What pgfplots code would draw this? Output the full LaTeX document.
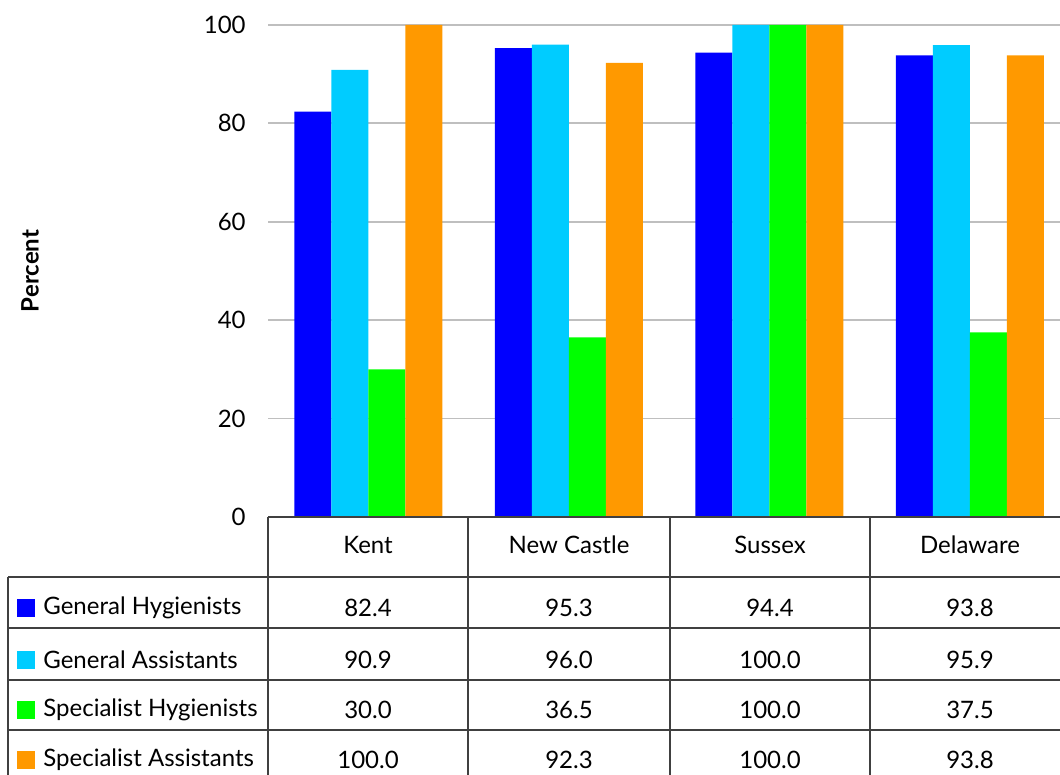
\documentclass[border=0pt]{standalone}
\usepackage{pgfplots}
\pgfplotsset{compat=1.18}
\usepackage{fontspec}
\setmainfont{Lato}
\definecolor{cBlue}{HTML}{0000FF}
\definecolor{cCyan}{HTML}{00CCFF}
\definecolor{cGreen}{HTML}{00FF00}
\definecolor{cOrange}{HTML}{FF9900}
\definecolor{tline}{HTML}{404040}
\begin{document}
\fontsize{12pt}{14pt}\selectfont
\begin{tikzpicture}
\useasboundingbox (0,0) rectangle (530pt,387.5pt);
\begin{scope}[overlay]
\clip (0,0) rectangle (530pt,387.5pt);
\begin{axis}[
  at={(134pt,129pt)}, anchor=south west,
  scale only axis, width=401pt, height=246pt,
  xmin=-0.5, xmax=3.5, ymin=0, ymax=100,
  ytick={0,20,40,60,80,100}, xtick=\empty,
  ymajorgrids, grid style={color=black!25, line width=0.9pt},
  axis line style={draw=none},
  major tick length=0pt,
  tick label style={font=\fontsize{12pt}{14pt}\selectfont},
  yticklabel style={xshift=-7pt},
  /pgf/number format/assume math mode=true,
  ybar=0pt, bar width=18.5pt,
  every axis plot/.append style={draw=none},
]
\addplot[fill=cBlue] coordinates {(0,82.4) (1,95.3) (2,94.4) (3,93.8)};
\addplot[fill=cCyan] coordinates {(0,90.9) (1,96.0) (2,100.0) (3,95.9)};
\addplot[fill=cGreen] coordinates {(0,30.0) (1,36.5) (2,100.0) (3,37.5)};
\addplot[fill=cOrange] coordinates {(0,100.0) (1,92.3) (2,100.0) (3,93.8)};
\end{axis}
% table
\begin{scope}[tline, line width=0.6pt]
\draw (134pt,129pt) -- (535pt,129pt);
\draw (4pt,99pt) -- (535pt,99pt);
\draw (4pt,73.5pt) -- (535pt,73.5pt);
\draw (4pt,47.5pt) -- (535pt,47.5pt);
\draw (4pt,22.5pt) -- (535pt,22.5pt);
\draw (4pt,99pt) -- (4pt,-5pt);
\draw (134pt,129pt) -- (134pt,-5pt);
\draw (234pt,129pt) -- (234pt,-5pt);
\draw (335pt,129pt) -- (335pt,-5pt);
\draw (435pt,129pt) -- (435pt,-5pt);
\end{scope}
\foreach \x/\t in {184/Kent, 284.5/New Castle, 385/Sussex, 485/Delaware}
  \node at (\x pt,115pt) {\t};
\foreach \y/\c/\t/\a/\b/\cc/\d in {
  83.5/cBlue/General Hygienists/82.4/95.3/94.4/93.8,
  57.5/cCyan/General Assistants/90.9/96.0/100.0/95.9,
  32.5/cGreen/Specialist Hygienists/30.0/36.5/100.0/37.5,
  7.5/cOrange/Specialist Assistants/100.0/92.3/100.0/93.8}{
  \fill[\c] (8.5pt,\y pt-4.5pt) rectangle (17.5pt,\y pt+4.5pt);
  \node[anchor=west, inner sep=0pt] at (21.5pt,\y pt) {\t};
  \node at (184pt,\y pt) {\a};
  \node at (284.5pt,\y pt) {\b};
  \node at (385pt,\y pt) {\cc};
  \node at (485pt,\y pt) {\d};
}
\node[rotate=90, font=\bfseries] at (15pt,252pt) {Percent};
\end{scope}
\end{tikzpicture}
\end{document}
